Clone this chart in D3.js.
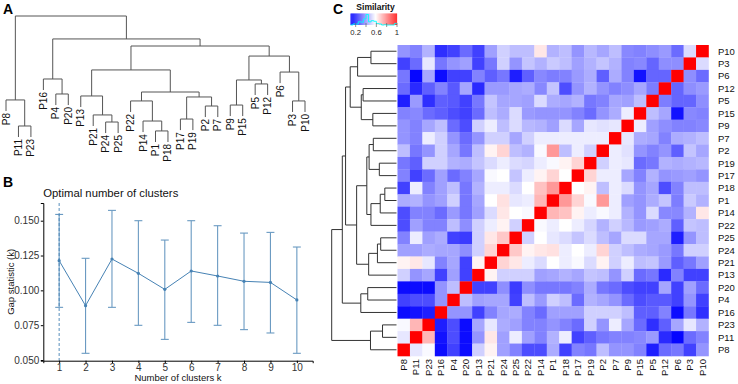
<!DOCTYPE html>
<html>
<head>
<meta charset="utf-8">
<script src="https://cdn.jsdelivr.net/npm/d3@7"></script>
<style>
  body { margin: 0; background: #fff; }
  svg { display: block; font-family: "Liberation Sans", Arial, sans-serif; }
</style>
</head>
<body>
<svg width="738" height="384"></svg>
<script>
// leaf order of the clustering (panel A, heatmap columns left to right)
const leafOrder = ["P8", "P11", "P23", "P16", "P4", "P20", "P13", "P21", "P24", "P25", "P22", "P14",
  "P1", "P18", "P17", "P19", "P2", "P7", "P9", "P15", "P5", "P12", "P6", "P3", "P10"];
// heatmap rows, top to bottom
const rowOrder = leafOrder.slice().reverse();

// dendrogram: [merge height, left, right]
const tree = [1.0,
  [0.323, "P8", [0.113, "P11", "P23"]],
  [0.815,
    [0.492, "P16", [0.371, "P4", "P20"]],
    [0.758,
      [0.565,
        [0.355, "P13", [0.202, "P21", [0.145, "P24", "P25"]]],
        [0.387,
          [0.315, "P22", [0.153, "P14", [0.073, "P1", "P18"]]],
          [0.347, [0.169, "P17", "P19"], [0.274, "P2", "P7"]]]],
      [0.677,
        [0.484, [0.282, "P9", "P15"], [0.452, "P5", "P12"]],
        [0.548, "P6", [0.315, "P3", "P10"]]]]]];

// gap statistic
const kValues = [1, 2, 3, 4, 5, 6, 7, 8, 9, 10];
const gapValues = [0.1213, 0.089, 0.1225, 0.1122, 0.1007, 0.1139, 0.1103, 0.1065, 0.1057, 0.0931];
const gapLower = [0.0878, 0.0548, 0.0878, 0.0749, 0.0648, 0.077, 0.0749, 0.0718, 0.0694, 0.0548];
const gapUpper = [0.1545, 0.123, 0.1574, 0.15, 0.1361, 0.15, 0.1464, 0.1411, 0.1416, 0.1311];
const yTicksB = [0.05, 0.075, 0.1, 0.125, 0.15];

// similarity: for each heatmap row, the cells right of the red diagonal (left to right)
const rightOfDiagonal = [
  [],
  [0.52],
  [0.39, 0.33],
  [0.32, 0.39, 0.41],
  [0.36, 0.32, 0.32, 0.39],
  [0.47, 0.43, 0.18, 0.38, 0.37],
  [0.55, 0.42, 0.39, 0.37, 0.37, 0.38],
  [0.54, 0.44, 0.43, 0.37, 0.44, 0.45, 0.47],
  [0.55, 0.53, 0.40, 0.37, 0.40, 0.31, 0.48, 0.43],
  [0.50, 0.55, 0.54, 0.33, 0.35, 0.45, 0.44, 0.45, 0.46],
  [0.65, 0.55, 0.55, 0.43, 0.37, 0.45, 0.40, 0.41, 0.42, 0.40],
  [0.58, 0.60, 0.47, 0.55, 0.52, 0.40, 0.43, 0.28, 0.37, 0.47, 0.47],
  [0.75, 0.65, 0.57, 0.75, 0.55, 0.42, 0.40, 0.44, 0.48, 0.36, 0.49, 0.45],
  [0.70, 0.68, 0.60, 0.55, 0.57, 0.55, 0.45, 0.40, 0.52, 0.38, 0.38, 0.45, 0.62],
  [0.57, 0.55, 0.58, 0.55, 0.51, 0.45, 0.50, 0.46, 0.41, 0.42, 0.44, 0.31, 0.48, 0.47],
  [0.50, 0.58, 0.54, 0.52, 0.48, 0.52, 0.47, 0.43, 0.52, 0.52, 0.43, 0.43, 0.20, 0.40, 0.47],
  [0.67, 0.60, 0.62, 0.63, 0.55, 0.58, 0.55, 0.65, 0.50, 0.47, 0.44, 0.43, 0.41, 0.35, 0.50, 0.50],
  [0.65, 0.62, 0.55, 0.52, 0.58, 0.55, 0.57, 0.52, 0.60, 0.50, 0.55, 0.47, 0.48, 0.41, 0.31, 0.35, 0.42],
  [0.60, 0.50, 0.50, 0.50, 0.42, 0.43, 0.45, 0.43, 0.48, 0.47, 0.40, 0.50, 0.33, 0.35, 0.22, 0.37, 0.26, 0.26],
  [0.26, 0.26, 0.39, 0.25, 0.39, 0.35, 0.35, 0.35, 0.37, 0.44, 0.35, 0.33, 0.28, 0.26, 0.26, 0.43, 0.26, 0.42, 0.33],
  [0.47, 0.42, 0.43, 0.43, 0.26, 0.47, 0.41, 0.50, 0.47, 0.33, 0.45, 0.43, 0.40, 0.33, 0.28, 0.30, 0.30, 0.26, 0.40, 0.26],
  [0.40, 0.40, 0.26, 0.37, 0.43, 0.44, 0.37, 0.33, 0.42, 0.42, 0.42, 0.50, 0.50, 0.50, 0.47, 0.31, 0.31, 0.37, 0.17, 0.35, 0.23],
  [0.20, 0.28, 0.17, 0.43, 0.54, 0.44, 0.42, 0.37, 0.37, 0.40, 0.37, 0.33, 0.50, 0.40, 0.55, 0.43, 0.33, 0.23, 0.31, 0.43, 0.54, 0.45],
  [0.70, 0.18, 0.28, 0.17, 0.40, 0.62, 0.42, 0.55, 0.42, 0.37, 0.45, 0.55, 0.26, 0.31, 0.35, 0.37, 0.37, 0.38, 0.41, 0.22, 0.16, 0.33, 0.37],
  [0.54, 0.57, 0.17, 0.26, 0.17, 0.50, 0.60, 0.42, 0.37, 0.28, 0.28, 0.44, 0.26, 0.37, 0.35, 0.47, 0.40, 0.40, 0.37, 0.20, 0.33, 0.35, 0.26, 0.40]
];
const keyTicks = [0.2, 0.4, 0.6, 0.8, 1];
const keyLabels = [0.2, 0.6, 1];

const svg = d3.select("svg");
const n = rowOrder.length;

// value for heatmap row i, column j (column j holds rowOrder[n-1-j])
const simAt = (i, j) => {
  const k = n - 1 - j;
  if (k === i) return 1;
  if (k < i) return rightOfDiagonal[i][j - n + i];
  return rightOfDiagonal[k][k - i - 1];
};

// ---- dendrogram helpers
function walk(node, posOf) {
  if (typeof node === "string") return { pos: posOf(node), leaf: node };
  const l = walk(node[1], posOf), r = walk(node[2], posOf);
  return { pos: (l.pos + r.pos) / 2, h: node[0], l, r };
}
function segments(nd, leafEnd, out, leaves) {
  if (nd.leaf) return;
  out.push([nd.l.pos, nd.h, nd.r.pos, nd.h]);
  [nd.l, nd.r].forEach((c) => {
    const end = c.leaf ? leafEnd(nd.h) : c.h;
    out.push([c.pos, nd.h, c.pos, end]);
    if (c.leaf) leaves.push({ name: c.leaf, pos: c.pos, h: end });
    segments(c, leafEnd, out, leaves);
  });
}

// ---- panel A
const aX = d3.scalePoint().domain(leafOrder).range([6, 305]);
const aY = d3.scaleLinear().domain([0, 1]).range([140, 16]);
const hang = 0.089;
const aSegs = [], aLeaves = [];
segments(walk(tree, (d) => aX(d)), (h) => h - hang, aSegs, aLeaves);

const gA = svg.append("g");
gA.selectAll("line").data(aSegs).enter().append("line")
  .attr("x1", (s) => s[0]).attr("y1", (s) => aY(s[1]))
  .attr("x2", (s) => s[2]).attr("y2", (s) => aY(s[3]))
  .attr("stroke", "#555").attr("stroke-width", 1);
gA.selectAll("text").data(aLeaves).enter().append("text")
  .attr("transform", (d) => `translate(${d.pos},${aY(d.h) + 2}) rotate(-90)`)
  .attr("text-anchor", "end").attr("dy", "0.35em")
  .attr("font-size", 10).attr("fill", "#111")
  .text((d) => d.name);

// ---- panel B
const bX = d3.scaleLinear().domain([0.4, 10.6]).range([43.3, 312.7]);
const bY = d3.scaleLinear().domain([0.0495, 0.1627]).range([360.7, 203]);
const gB = svg.append("g");
const blue = "steelblue";

gB.append("line")
  .attr("x1", bX(1)).attr("x2", bX(1)).attr("y1", bY.range()[1]).attr("y2", bY.range()[0])
  .attr("stroke", blue).attr("stroke-dasharray", "3,2").attr("stroke-width", 0.9);

kValues.forEach((k, i) => {
  const bar = gB.append("g").attr("stroke", blue).attr("stroke-width", 1.1).attr("opacity", 0.8);
  bar.append("line").attr("x1", bX(k)).attr("x2", bX(k)).attr("y1", bY(gapLower[i])).attr("y2", bY(gapUpper[i]));
  [gapLower[i], gapUpper[i]].forEach((v) => {
    bar.append("line").attr("x1", bX(k - 0.15)).attr("x2", bX(k + 0.15)).attr("y1", bY(v)).attr("y2", bY(v));
  });
});
gB.append("path")
  .datum(kValues.map((k, i) => [k, gapValues[i]]))
  .attr("fill", "none").attr("stroke", blue).attr("stroke-width", 1)
  .attr("d", d3.line().x((d) => bX(d[0])).y((d) => bY(d[1])));
gB.selectAll("circle").data(kValues).enter().append("circle")
  .attr("cx", (k) => bX(k)).attr("cy", (k, i) => bY(gapValues[i])).attr("r", 1.6).attr("fill", blue);

const xAxisB = gB.append("g").attr("transform", `translate(0,${bY.range()[0]})`)
  .call(d3.axisBottom(bX).tickValues(kValues).tickSize(2.5).tickPadding(0.3).tickFormat(d3.format("d")));
const yAxisB = gB.append("g").attr("transform", `translate(${bX.range()[0]},0)`)
  .call(d3.axisLeft(bY).tickValues(yTicksB).tickSize(2.5).tickPadding(1.5).tickFormat(d3.format(".3f")));
[xAxisB, yAxisB].forEach((ax) => {
  ax.select(".domain").attr("stroke", "#000").attr("stroke-width", 1);
  ax.selectAll(".tick line").attr("stroke", "#000");
  ax.selectAll(".tick text").attr("font-size", 10).attr("fill", "#333")
    .attr("font-family", "Liberation Sans, Arial, sans-serif");
});
gB.append("text").attr("x", bX.range()[0]).attr("y", 197).attr("font-size", 11.3).attr("fill", "#111")
  .text("Optimal number of clusters");
gB.append("text").attr("x", (bX.range()[0] + bX.range()[1]) / 2).attr("y", 381)
  .attr("text-anchor", "middle").attr("font-size", 9.5).attr("fill", "#111").text("Number of clusters k");
gB.append("text").attr("transform", `translate(14,${(bY.range()[0] + bY.range()[1]) / 2}) rotate(-90)`)
  .attr("text-anchor", "middle").attr("font-size", 9.5).attr("fill", "#111").text("Gap statistic (k)");

// ---- panel C heatmap
const hx = d3.scaleBand().domain(leafOrder).range([397.5, 708.5]);
const hy = d3.scaleBand().domain(rowOrder).range([45, 356]);
const color = d3.scaleLinear().domain([0.15, 0.58, 1]).range(["#0000ff", "#ffffff", "#ff0000"]).clamp(true);

const cells = [];
rowOrder.forEach((r, i) => leafOrder.forEach((c, j) => cells.push({ r, c, v: simAt(i, j) })));
const gC = svg.append("g");
gC.selectAll("rect").data(cells).enter().append("rect")
  .attr("x", (d) => hx(d.c)).attr("y", (d) => hy(d.r))
  .attr("width", hx.bandwidth() + 0.3).attr("height", hy.bandwidth() + 0.3)
  .attr("fill", (d) => color(d.v));

gC.selectAll("text.row").data(rowOrder).enter().append("text")
  .attr("class", "row").attr("x", 718).attr("y", (d) => hy(d) + hy.bandwidth() / 2)
  .attr("dy", "0.35em").attr("font-size", 9.5).attr("fill", "#111").text((d) => d);
gC.selectAll("text.col").data(leafOrder).enter().append("text")
  .attr("class", "col")
  .attr("transform", (d) => `translate(${hx(d) + hx.bandwidth() / 2},359) rotate(-90)`)
  .attr("text-anchor", "end").attr("dy", "0.35em").attr("font-size", 9.5).attr("fill", "#111").text((d) => d);

// row dendrogram
const dX = d3.scaleLinear().domain([0, 1]).range([389, 331.7]);
const cSegs = [], cLeaves = [];
segments(walk(tree, (d) => hy(d) + hy.bandwidth() / 2), () => dX.invert(396.5), cSegs, cLeaves);
gC.append("g").selectAll("line").data(cSegs).enter().append("line")
  .attr("x1", (s) => dX(s[1])).attr("y1", (s) => s[0])
  .attr("x2", (s) => dX(s[3])).attr("y2", (s) => s[2])
  .attr("stroke", "#333").attr("stroke-width", 1);

// colour key
const kx = d3.scaleLinear().domain([0.1, 1]).range([350.5, 397]);
const keyTop = 13.5, keyBottom = 25;
const gK = svg.append("g");
const keySteps = d3.range(kx.range()[0], kx.range()[1], 0.5);
gK.selectAll("rect").data(keySteps).enter().append("rect")
  .attr("x", (d) => d).attr("y", keyTop).attr("width", 0.6).attr("height", keyBottom - keyTop)
  .attr("fill", (d) => color(kx.invert(d)));
const allVals = cells.map((d) => d.v);
const bins = d3.bin().domain(kx.domain()).thresholds(d3.range(0.1, 1, 0.05))(allVals);
const ky = d3.scaleLinear().domain([0, d3.max(bins, (b) => b.length)]).range([keyBottom, keyTop + 1]);
const histPts = [];
bins.forEach((b) => { histPts.push([b.x0, b.length]); histPts.push([b.x1, b.length]); });
gK.append("path").datum(histPts).attr("fill", "none").attr("stroke", "cyan").attr("stroke-width", 0.9)
  .attr("d", d3.line().x((d) => kx(d[0])).y((d) => ky(d[1])));
gK.selectAll("line.tick").data(keyTicks).enter().append("line")
  .attr("x1", (d) => kx(d)).attr("x2", (d) => kx(d)).attr("y1", keyBottom - 2).attr("y2", keyBottom + 2)
  .attr("stroke", "#666").attr("stroke-width", 0.7);
gK.selectAll("text").data(keyLabels).enter().append("text")
  .attr("x", (d) => kx(d)).attr("y", 35).attr("text-anchor", "middle")
  .attr("font-size", 7.7).attr("fill", "#222").text((d) => d);
gK.append("text").attr("x", 375.5).attr("y", 9.5).attr("text-anchor", "middle")
  .attr("font-size", 8.5).attr("font-weight", "bold").attr("fill", "#111").text("Similarity");

// panel letters
[["A", 3, 13.5], ["B", 3, 187], ["C", 333, 13.5]].forEach(([t, x, y]) => {
  svg.append("text").attr("x", x).attr("y", y).attr("font-size", 14).attr("font-weight", "bold").text(t);
});
</script>
</body>
</html>
